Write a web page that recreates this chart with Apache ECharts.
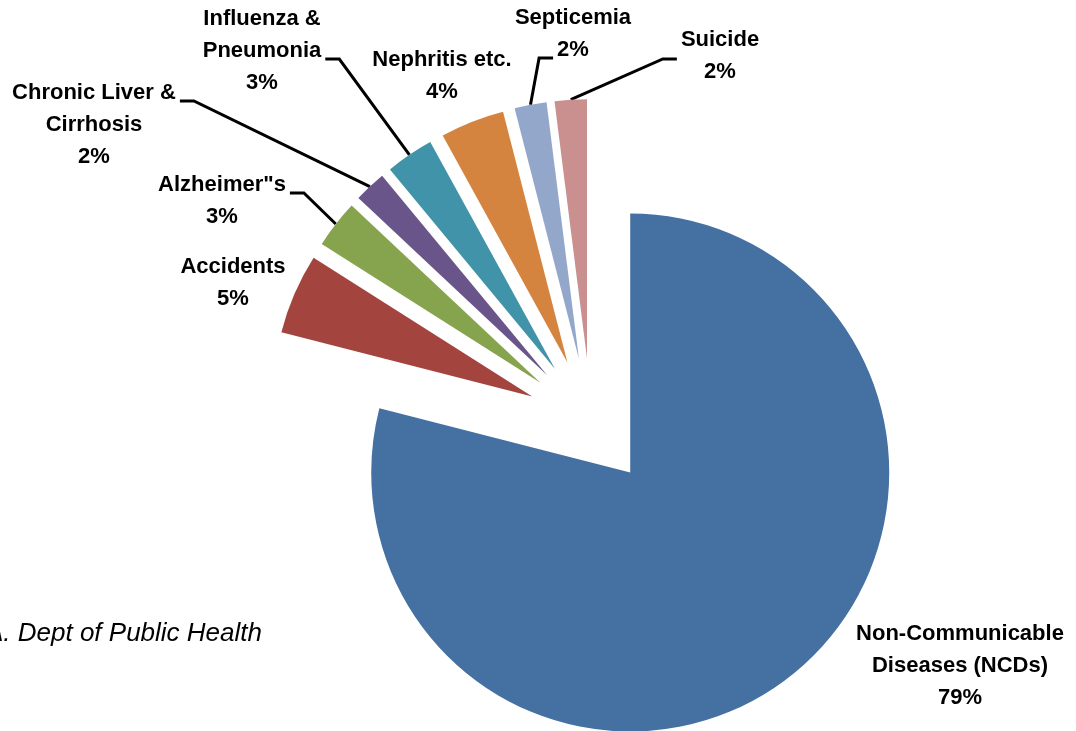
<!DOCTYPE html>
<html>
<head>
<meta charset="utf-8">
<title>Causes of death</title>
<script src="https://cdn.jsdelivr.net/npm/echarts@6/dist/echarts.min.js"></script>
<style>
  html, body { margin: 0; padding: 0; background: #ffffff; }
  #chart { width: 1076px; height: 731px; }
</style>
</head>
<body>
<div id="chart"></div>
<script>
// Share of deaths by cause (percent)
const causes = [
  'Non-Communicable\nDiseases (NCDs)',
  'Accidents',
  'Alzheimer"s',
  'Chronic Liver &\nCirrhosis',
  'Influenza &\nPneumonia',
  'Nephritis etc.',
  'Septicemia',
  'Suicide'
];
const shares = [79, 5, 3, 2, 3, 4, 2, 2];
const colors = ['#4470A2', '#A3443F', '#86A34E', '#69558A', '#4093A8', '#D5843F', '#93A7CB', '#CA8F8F'];
const sourceNote = 'Source: L.A. Dept of Public Health';

// Where each text block is centred
const labelSpots = [[960, 666], [233, 283], [222, 201], [94, 125], [262, 51], [442, 76], [573, 34], [720, 56]];
// Leader lines: which side of the text they meet, at which text line, and a small vertical nudge
const leaderAnchors = {
  2: { side: 'right', line: 0, nudge: 8 },
  3: { side: 'right', line: 0, nudge: 8 },
  4: { side: 'right', line: 1, nudge: 8 },
  6: { side: 'left', line: 1, nudge: 8 },
  7: { side: 'left', line: 0.5, nudge: 3 }
};

const FONT = '"Liberation Sans", Arial, sans-serif';
const FONT_SIZE = 22;
const LINE_HEIGHT = 32;
const PIE_CENTER = [591, 422];
const PIE_RADIUS = 259;
const EXPLODE = 64;   // every slice is pulled out along its bisector
const DASH = 14;      // short horizontal piece of a leader line
const GAP = 4;

const measureCtx = document.createElement('canvas').getContext('2d');
measureCtx.font = 'bold ' + FONT_SIZE + 'px ' + FONT;
const textWidth = s => measureCtx.measureText(s).width;

const total = shares.reduce((a, b) => a + b, 0);
const labelText = i => causes[i] + '\n' + Math.round(shares[i] / total * 100) + '%';

// One pie per slice: all share the same data (so the angles agree),
// but each shows only its own slice, shifted outward along the bisector.
let cumulative = 0;
const series = shares.map((v, i) => {
  const mid = (cumulative + v / 2) / total * 2 * Math.PI;   // clockwise from 12 o'clock
  cumulative += v;
  const cx = PIE_CENTER[0] + Math.sin(mid) * EXPLODE;
  const cy = PIE_CENTER[1] - Math.cos(mid) * EXPLODE;
  const arcPoint = [cx + Math.sin(mid) * PIE_RADIUS, cy - Math.cos(mid) * PIE_RADIUS];
  const anchor = leaderAnchors[i];

  return {
    type: 'pie',
    center: [cx, cy],
    radius: PIE_RADIUS,
    startAngle: 90,
    clockwise: true,
    avoidLabelOverlap: false,
    silent: true,
    emphasis: { disabled: true },
    label: {
      show: true,
      position: 'outside',
      fontFamily: FONT,
      fontSize: FONT_SIZE,
      fontWeight: 'bold',
      color: '#000000',
      lineHeight: LINE_HEIGHT,
      align: 'center',
      formatter: p => labelText(p.dataIndex)
    },
    labelLine: {
      show: true,
      length: 10,
      length2: 12,
      lineStyle: { color: '#000000', width: 3 }
    },
    labelLayout: p => {
      const s = labelSpots[p.dataIndex];
      const out = { x: s[0], y: s[1], align: 'center', verticalAlign: 'middle' };
      if (anchor && p.dataIndex === i) {
        const lines = labelText(i).split('\n');
        const k = anchor.line;
        const w = Number.isInteger(k) ? textWidth(lines[k]) : Math.max.apply(null, lines.map(textWidth));
        const top = s[1] - lines.length * LINE_HEIGHT / 2;
        const y = top + (k + 0.5) * LINE_HEIGHT + anchor.nudge;
        const sign = anchor.side === 'right' ? 1 : -1;
        const end = [s[0] + sign * (w / 2 + GAP), y];
        const elbow = [end[0] + sign * DASH, y];
        out.labelLinePoints = [arcPoint, elbow, end];
      }
      return out;
    },
    data: causes.map((name, j) => {
      const own = j === i;
      return {
        name: name,
        value: shares[j],
        itemStyle: own ? { color: colors[j] } : { color: 'rgba(0,0,0,0)' },
        label: { show: own },
        labelLine: { show: own && !!leaderAnchors[j] }
      };
    })
  };
});

const chart = echarts.init(document.getElementById('chart'), null, { renderer: 'canvas' });

chart.setOption({
  animation: false,
  backgroundColor: '#ffffff',
  graphic: [{
    type: 'text',
    silent: true,
    style: {
      text: sourceNote,
      x: 262,
      y: 634,
      align: 'right',
      verticalAlign: 'middle',
      font: 'italic 26px ' + FONT,
      fill: '#000000'
    }
  }],
  series: series
});
</script>
</body>
</html>
